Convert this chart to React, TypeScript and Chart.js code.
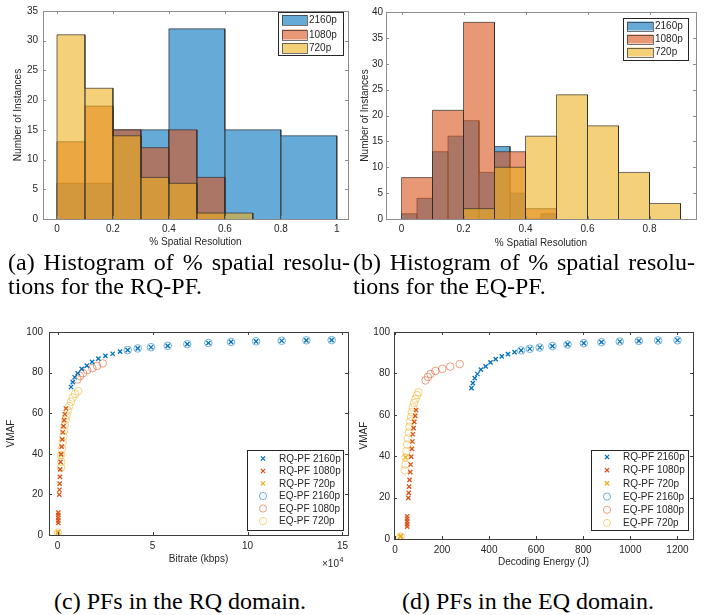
import React, { useEffect, useRef } from 'react';
import { Chart, registerables } from 'chart.js';

Chart.register(...registerables);

// ---------------- (a) Histogram, RQ-PF ----------------
const A_EDGES_2160 = [0, 0.2, 0.4, 0.6, 0.8, 1.0];
const A_COUNTS_2160 = [6, 15, 32, 15, 14];
const A_EDGES_1080 = [0, 0.1, 0.2, 0.3, 0.4, 0.5, 0.6];
const A_COUNTS_1080 = [13, 19, 15, 12, 15, 7];
const A_EDGES_720 = [0, 0.1, 0.2, 0.3, 0.4, 0.5, 0.6, 0.7];
const A_COUNTS_720 = [31, 22, 14, 7, 6, 1, 1];
const A_X_TICKS = [0, 0.2, 0.4, 0.6, 0.8, 1];
const A_Y_TICKS = [0, 5, 10, 15, 20, 25, 30, 35];

// ---------------- (b) Histogram, EQ-PF ----------------
const B_EDGES_2160 = [0, 0.05, 0.1, 0.15, 0.2, 0.25, 0.3, 0.35, 0.4, 0.45, 0.5];
const B_COUNTS_2160 = [1, 4, 13, 16, 19, 9, 14, 5, 0, 1];
const B_EDGES_1080 = [0, 0.1, 0.2, 0.3, 0.4, 0.5];
const B_COUNTS_1080 = [8, 21, 38, 13, 2];
const B_EDGES_720 = [0.2, 0.3, 0.4, 0.5, 0.6, 0.7, 0.8, 0.9];
const B_COUNTS_720 = [2, 10, 16, 24, 18, 9, 3];
const B_X_TICKS = [0, 0.2, 0.4, 0.6, 0.8];
const B_Y_TICKS = [0, 5, 10, 15, 20, 25, 30, 35, 40];

const HIST_LABELS = ['2160p', '1080p', '720p'];

// ---------------- Pareto fronts ----------------
const RQ_2160_VMAF = [72.9, 75.3, 77.7, 79.7, 81.8, 83.4, 85.3, 86.9, 88.2, 89.3, 90.3, 91.1, 91.9, 92.5, 93.2, 94.0, 94.6, 95.1, 95.4, 95.7, 95.9, 96.0];
const RQ_2160_KBPS = [7100, 8000, 9000, 10600, 12700, 15400, 18200, 21500, 25200, 29000, 32900, 36900, 42200, 49200, 58000, 68300, 79400, 91300, 104500, 118000, 131000, 144300];
const RQ_2160_J = [325, 331, 339, 350, 365, 385, 406, 428, 454, 480, 508, 536, 573, 615, 669, 733, 802, 877, 955, 1036, 1118, 1200];

const RQ_1080_VMAF = [6.0, 7.2, 8.5, 9.8, 11.0, 19.9, 22.3, 25.3, 28.6, 32.3, 36.0, 39.8, 43.5, 47.1, 50.6, 53.6, 56.6, 59.5, 62.3];
const RQ_1080_KBPS = [400, 400, 400, 400, 400, 900, 1000, 1100, 1250, 1400, 1600, 1850, 2150, 2500, 2800, 3100, 3450, 3850, 4400];
const RQ_1080_J = [52, 52, 52, 52, 52, 57, 59, 60, 62, 65, 67, 69, 72, 74, 76, 79, 82, 86, 90];

const RQ_720_VMAF = [1.0, 1.5, 39.4];
const RQ_720_KBPS = [200, 250, 1840];
const RQ_720_J = [23, 25, 45];

const EQ_2160_VMAF = [91.1, 91.9, 92.5, 93.2, 94.0, 94.6, 95.1, 95.4, 95.7, 95.9, 96.0];
const EQ_2160_KBPS = [36900, 42200, 49200, 58000, 68300, 79400, 91300, 104500, 118000, 131000, 144300];
const EQ_2160_J = [536, 573, 615, 669, 733, 802, 877, 955, 1036, 1118, 1200];

const EQ_1080_VMAF = [76.6, 78.3, 79.7, 81.2, 82.2, 83.3, 84.5];
const EQ_1080_KBPS = [10500, 11800, 13400, 15600, 18300, 20800, 23800];
const EQ_1080_J = [130, 140, 151, 172, 201, 235, 275];

const EQ_720_VMAF = [1.2, 33.2, 36.0, 39.4, 42.4, 45.6, 48.6, 51.4, 54.2, 56.8, 59.0, 61.3, 63.6, 65.7, 67.7, 69.5, 70.9];
const EQ_720_KBPS = [200, 1840, 2000, 1840, 2300, 2700, 3050, 3400, 3800, 4300, 4800, 5400, 6200, 7100, 8000, 9200, 10900];
const EQ_720_J = [24, 42, 45, 45, 49, 52, 56, 59, 62, 65, 69, 72, 76, 81, 87, 94, 100];

const PF_LABELS = ['RQ-PF 2160p', 'RQ-PF 1080p', 'RQ-PF 720p', 'EQ-PF 2160p', 'EQ-PF 1080p', 'EQ-PF 720p'];
const VMAF_TICKS = [0, 20, 40, 60, 80, 100];
const KBPS_TICKS = [0, 50000, 100000, 150000];
const J_TICKS = [0, 200, 400, 600, 800, 1000, 1200];

// ---------------- styles ----------------
const FONT = '"Liberation Sans", Arial, Helvetica, sans-serif';
const TEXT = '#262626';
const BLUE = [0, 114, 189];
const ORANGE = [217, 83, 25];
const YELLOW = [237, 177, 32];
const rgba = (c: number[], a: number) => `rgba(${c[0]},${c[1]},${c[2]},${a})`;
const FACE_A = 0.6;
const EDGE = 'rgba(38,38,38,0.65)';

function histPath(edges: number[], counts: number[]) {
  const pts: { x: number; y: number }[] = [];
  for (let i = 0; i < counts.length; i++) {
    pts.push({ x: edges[i], y: 0 });
    pts.push({ x: edges[i], y: counts[i] });
    pts.push({ x: edges[i + 1], y: counts[i] });
    pts.push({ x: edges[i + 1], y: 0 });
  }
  return pts;
}

const zip = (xs: number[], ys: number[]) => xs.map((x, i) => ({ x, y: ys[i] }));

type LegendSpec = {
  kind: 'patch' | 'marker';
  box: [number, number, number, number];
  rows: number[];
  markX: number;
  textX: number;
  patchW?: number;
  patchH?: number;
  items: { label: string; color: number[]; style?: 'x' | 'o' }[];
};

type FrameSpec = {
  boxColor: string;
  tickLen: number;
  xTitle: string;
  xTitleY: number;
  yTitle: string;
  yTitleX: number;
  exponent?: { x: number; y: number };
  legend: LegendSpec;
};

function framePlugin(spec: FrameSpec) {
  return {
    id: 'frame',
    afterDraw(chart: any) {
      const ctx = chart.ctx as CanvasRenderingContext2D;
      const a = chart.chartArea;
      const xs = chart.scales.x;
      const ys = chart.scales.y;
      ctx.save();
      // inward ticks on all four sides
      ctx.strokeStyle = spec.boxColor;
      ctx.lineWidth = 1;
      ctx.beginPath();
      for (const t of xs.ticks) {
        const px = Math.round(xs.getPixelForValue(t.value)) + 0.5;
        ctx.moveTo(px, a.bottom);
        ctx.lineTo(px, a.bottom - spec.tickLen);
        ctx.moveTo(px, a.top);
        ctx.lineTo(px, a.top + spec.tickLen);
      }
      for (const t of ys.ticks) {
        const py = Math.round(ys.getPixelForValue(t.value)) + 0.5;
        ctx.moveTo(a.left, py);
        ctx.lineTo(a.left + spec.tickLen, py);
        ctx.moveTo(a.right, py);
        ctx.lineTo(a.right - spec.tickLen, py);
      }
      ctx.stroke();
      ctx.strokeRect(Math.round(a.left) + 0.5, Math.round(a.top) + 0.5, Math.round(a.right - a.left), Math.round(a.bottom - a.top));

      // axis titles
      ctx.fillStyle = TEXT;
      ctx.font = `10px ${FONT}`;
      ctx.textAlign = 'center';
      ctx.textBaseline = 'middle';
      ctx.fillText(spec.xTitle, (a.left + a.right) / 2, spec.xTitleY);
      ctx.save();
      ctx.translate(spec.yTitleX, (a.top + a.bottom) / 2);
      ctx.rotate(-Math.PI / 2);
      ctx.fillText(spec.yTitle, 0, 0);
      ctx.restore();

      if (spec.exponent) {
        ctx.textAlign = 'left';
        ctx.font = `10px ${FONT}`;
        ctx.fillText('\u00d710', spec.exponent.x, spec.exponent.y);
        const w = ctx.measureText('\u00d710').width;
        ctx.font = `7px ${FONT}`;
        ctx.fillText('4', spec.exponent.x + w + 0.5, spec.exponent.y - 4);
      }

      // legend
      const L = spec.legend;
      const [bx, by, bw, bh] = L.box;
      ctx.fillStyle = '#ffffff';
      ctx.fillRect(bx, by, bw, bh);
      ctx.strokeStyle = '#262626';
      ctx.lineWidth = 1;
      ctx.strokeRect(Math.round(bx) + 0.5, Math.round(by) + 0.5, Math.round(bw), Math.round(bh));
      ctx.font = `10px ${FONT}`;
      ctx.textAlign = 'left';
      ctx.textBaseline = 'middle';
      L.items.forEach((it, i) => {
        const ry = L.rows[i];
        if (L.kind === 'patch') {
          const pw = L.patchW || 25;
          const ph = L.patchH || 10;
          ctx.fillStyle = rgba(it.color, FACE_A);
          ctx.fillRect(L.markX, ry - ph / 2, pw, ph);
          ctx.strokeStyle = EDGE;
          ctx.strokeRect(Math.round(L.markX) + 0.5, Math.round(ry - ph / 2) + 0.5, Math.round(pw), Math.round(ph));
        } else if (it.style === 'x') {
          ctx.strokeStyle = rgba(it.color, 1);
          ctx.lineWidth = 1.3;
          const r = 2.1;
          ctx.beginPath();
          ctx.moveTo(L.markX - r, ry - r);
          ctx.lineTo(L.markX + r, ry + r);
          ctx.moveTo(L.markX - r, ry + r);
          ctx.lineTo(L.markX + r, ry - r);
          ctx.stroke();
        } else {
          ctx.strokeStyle = rgba(it.color, 0.55);
          ctx.lineWidth = 1;
          ctx.beginPath();
          ctx.arc(L.markX, ry, 3.6, 0, Math.PI * 2);
          ctx.stroke();
        }
        ctx.fillStyle = TEXT;
        ctx.fillText(it.label, L.textX, ry + 0.5);
      });
      ctx.restore();
    },
  };
}

function axis(ticks: number[], min: number, max: number, fmt: (v: number) => string, fixed: { width?: number; height?: number }, padding: number) {
  return {
    type: 'linear',
    min,
    max,
    grid: { display: false, drawTicks: false },
    border: { display: false },
    ticks: {
      color: TEXT,
      font: { size: 10, family: FONT },
      padding,
      autoSkip: false,
      maxRotation: 0,
      includeBounds: false,
      callback: (v: number) => fmt(v),
    },
    afterBuildTicks: (s: any) => {
      s.ticks = ticks.map((v) => ({ value: v }));
    },
    afterFit: (s: any) => {
      if (fixed.width !== undefined) s.width = fixed.width;
      if (fixed.height !== undefined) s.height = fixed.height;
    },
  };
}

const fmtFrac = (v: number) => String(Math.round(v * 10) / 10);

function histDatasets(e2160: number[], c2160: number[], e1080: number[], c1080: number[], e720: number[], c720: number[]) {
  const mk = (label: string, pts: any, col: number[], order: number) => ({
    type: 'line',
    label,
    data: pts,
    fill: 'origin',
    backgroundColor: rgba(col, FACE_A),
    borderColor: EDGE,
    borderWidth: 1,
    pointRadius: 0,
    tension: 0,
    order,
  });
  return [
    mk(HIST_LABELS[0], histPath(e2160, c2160), BLUE, 3),
    mk(HIST_LABELS[1], histPath(e1080, c1080), ORANGE, 2),
    mk(HIST_LABELS[2], histPath(e720, c720), YELLOW, 1),
  ];
}

function pfDatasets(useEnergy: boolean) {
  const x = (k: number[], j: number[]) => (useEnergy ? j : k);
  const cross = (label: string, xs: number[], ys: number[], col: number[]) => ({
    type: 'scatter',
    label,
    data: zip(xs, ys),
    pointStyle: 'crossRot',
    pointRadius: 3,
    pointBorderWidth: 1.3,
    borderColor: rgba(col, 1),
    backgroundColor: rgba(col, 1),
    showLine: false,
  });
  const circ = (label: string, xs: number[], ys: number[], col: number[]) => ({
    type: 'scatter',
    label,
    data: zip(xs, ys),
    pointStyle: 'circle',
    pointRadius: 3.8,
    pointBorderWidth: 1,
    borderColor: rgba(col, 0.55),
    backgroundColor: 'rgba(0,0,0,0)',
    showLine: false,
  });
  return [
    cross(PF_LABELS[0], x(RQ_2160_KBPS, RQ_2160_J), RQ_2160_VMAF, BLUE),
    cross(PF_LABELS[1], x(RQ_1080_KBPS, RQ_1080_J), RQ_1080_VMAF, ORANGE),
    cross(PF_LABELS[2], x(RQ_720_KBPS, RQ_720_J), RQ_720_VMAF, YELLOW),
    circ(PF_LABELS[3], x(EQ_2160_KBPS, EQ_2160_J), EQ_2160_VMAF, BLUE),
    circ(PF_LABELS[4], x(EQ_1080_KBPS, EQ_1080_J), EQ_1080_VMAF, ORANGE),
    circ(PF_LABELS[5], x(EQ_720_KBPS, EQ_720_J), EQ_720_VMAF, YELLOW),
  ];
}

const PF_LEGEND_ITEMS = [
  { label: PF_LABELS[0], color: BLUE, style: 'x' as const },
  { label: PF_LABELS[1], color: ORANGE, style: 'x' as const },
  { label: PF_LABELS[2], color: YELLOW, style: 'x' as const },
  { label: PF_LABELS[3], color: BLUE, style: 'o' as const },
  { label: PF_LABELS[4], color: ORANGE, style: 'o' as const },
  { label: PF_LABELS[5], color: YELLOW, style: 'o' as const },
];
const HIST_LEGEND_ITEMS = [
  { label: HIST_LABELS[0], color: BLUE },
  { label: HIST_LABELS[1], color: ORANGE },
  { label: HIST_LABELS[2], color: YELLOW },
];

function makeConfig(which: 'a' | 'b' | 'c' | 'd'): any {
  const base = {
    responsive: false,
    animation: false,
    events: [],
    plugins: { legend: { display: false }, tooltip: { enabled: false } },
  };
  if (which === 'a') {
    return {
      type: 'line',
      data: { datasets: histDatasets(A_EDGES_2160, A_COUNTS_2160, A_EDGES_1080, A_COUNTS_1080, A_EDGES_720, A_COUNTS_720) },
      options: {
        ...base,
        layout: { padding: { top: 7, right: 6, left: 0, bottom: 0 } },
        scales: {
          x: axis(A_X_TICKS, -0.05, 1.04, fmtFrac, { height: 33 }, 4),
          y: axis(A_Y_TICKS, 0, 35, (v) => String(v), { width: 43 }, 5),
        },
      },
      plugins: [
        framePlugin({
          boxColor: '#8c8c8c',
          tickLen: 3,
          xTitle: '% Spatial Resolution',
          xTitleY: 242,
          yTitle: 'Number of Instances',
          yTitleX: 18,
          legend: { kind: 'patch', box: [278, 12, 65, 43], rows: [20, 34.5, 48], markX: 282, textX: 309, patchW: 25, patchH: 10, items: HIST_LEGEND_ITEMS },
        }),
      ],
    };
  }
  if (which === 'b') {
    return {
      type: 'line',
      data: { datasets: histDatasets(B_EDGES_2160, B_COUNTS_2160, B_EDGES_1080, B_COUNTS_1080, B_EDGES_720, B_COUNTS_720) },
      options: {
        ...base,
        layout: { padding: { top: 12, right: 13, left: 0, bottom: 0 } },
        scales: {
          x: axis(B_X_TICKS, -0.05, 0.95, fmtFrac, { height: 33 }, 4),
          y: axis(B_Y_TICKS, 0, 40, (v) => String(v), { width: 32 }, 3),
        },
      },
      plugins: [
        framePlugin({
          boxColor: '#8c8c8c',
          tickLen: 3,
          xTitle: '% Spatial Resolution',
          xTitleY: 243,
          yTitle: 'Number of Instances',
          yTitleX: 11,
          legend: { kind: 'patch', box: [269, 18, 65, 42], rows: [26, 39, 52], markX: 273, textX: 301, patchW: 26, patchH: 9, items: HIST_LEGEND_ITEMS },
        }),
      ],
    };
  }
  if (which === 'c') {
    return {
      type: 'scatter',
      data: { datasets: pfDatasets(false) },
      options: {
        ...base,
        layout: { padding: { top: 12, right: 6, left: 0, bottom: 0 } },
        scales: {
          x: axis(KBPS_TICKS, -4500, 152900, (v) => String(Math.round(v / 10000)), { height: 35 }, 5),
          y: axis(VMAF_TICKS, 0, 100, (v) => String(v), { width: 49 }, 6),
        },
      },
      plugins: [
        framePlugin({
          boxColor: '#3c3c3c',
          tickLen: 3,
          xTitle: 'Bitrate (kbps)',
          xTitleY: 239,
          yTitle: 'VMAF',
          yTitleX: 11,
          exponent: { x: 322, y: 244 },
          legend: { kind: 'marker', box: [247, 130, 96, 80], rows: [138.5, 151, 163.5, 176, 188.5, 201], markX: 263, textX: 279, items: PF_LEGEND_ITEMS },
        }),
      ],
    };
  }
  return {
    type: 'scatter',
    data: { datasets: pfDatasets(true) },
    options: {
      ...base,
      layout: { padding: { top: 12, right: 16, left: 0, bottom: 0 } },
      scales: {
        x: axis(J_TICKS, -4, 1266, (v) => String(v), { height: 31 }, 5),
        y: axis(VMAF_TICKS, 0, 100, (v) => String(v), { width: 40 }, 4),
      },
    },
    plugins: [
      framePlugin({
        boxColor: '#3c3c3c',
        tickLen: 3,
        xTitle: 'Decoding Energy (J)',
        xTitleY: 242,
        yTitle: 'VMAF',
        yTitleX: 10,
        legend: { kind: 'marker', box: [237, 130, 97, 80], rows: [137, 150.2, 163.4, 176.6, 189.8, 203], markX: 253, textX: 269, items: PF_LEGEND_ITEMS },
      }),
    ],
  };
}

function ChartPanel(props: { which: 'a' | 'b' | 'c' | 'd'; left: number; top: number; width: number; height: number }) {
  const ref = useRef<HTMLCanvasElement | null>(null);
  useEffect(() => {
    if (!ref.current) return;
    const chart = new Chart(ref.current, makeConfig(props.which));
    return () => chart.destroy();
  }, [props.which]);
  return (
    <canvas
      ref={ref}
      width={props.width}
      height={props.height}
      style={{ position: 'absolute', left: props.left, top: props.top, width: props.width, height: props.height }}
    />
  );
}

const CAP_FONT = '"Liberation Serif", "Times New Roman", Times, serif';

export default function App() {
  const capLine: React.CSSProperties = {
    position: 'absolute',
    fontFamily: CAP_FONT,
    fontSize: 24,
    lineHeight: '24px',
    color: '#000',
    whiteSpace: 'nowrap',
  };
  const justified: React.CSSProperties = { ...capLine, width: 342, textAlign: 'justify', textAlignLast: 'justify' as any, whiteSpace: 'normal' };
  return (
    <div style={{ position: 'absolute', left: 0, top: 0, width: 709, height: 615, background: '#fff', overflow: 'hidden' }}>
      <ChartPanel which="a" left={0} top={0} width={354} height={252} />
      <ChartPanel which="b" left={354} top={0} width={355} height={252} />
      <ChartPanel which="c" left={0} top={320} width={354} height={250} />
      <ChartPanel which="d" left={354} top={320} width={355} height={250} />
      <div style={{ ...justified, left: 8, top: 250 }}>(a) Histogram of % spatial resolu-</div>
      <div style={{ ...capLine, left: 8, top: 274 }}>tions for the RQ-PF.</div>
      <div style={{ ...justified, left: 353, top: 250 }}>(b) Histogram of % spatial resolu-</div>
      <div style={{ ...capLine, left: 353, top: 274 }}>tions for the EQ-PF.</div>
      <div style={{ ...capLine, left: 0, width: 360, textAlign: 'center', top: 589 }}>(c) PFs in the RQ domain.</div>
      <div style={{ ...capLine, left: 348, width: 360, textAlign: 'center', top: 589 }}>(d) PFs in the EQ domain.</div>
    </div>
  );
}
